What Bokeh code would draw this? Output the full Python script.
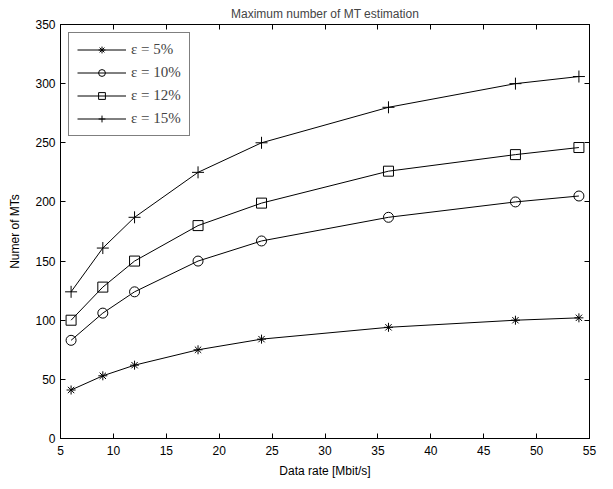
from bokeh.plotting import figure
from bokeh.models import LinearAxis, FixedTicker, Range1d, Legend, LegendItem
from bokeh.embed import file_html
from bokeh.resources import INLINE

rates = [6, 9, 12, 18, 24, 36, 48, 54]
eps5 = [41, 53, 62, 75, 84, 94, 100, 102]
eps10 = [83, 106, 124, 150, 167, 187, 200, 205]
eps12 = [100, 128, 150, 180, 199, 226, 240, 246]
eps15 = [124, 161, 187, 225, 250, 280, 300, 306]
labels = ["ε = 5%", "ε = 10%", "ε = 12%", "ε = 15%"]
markers = ["asterisk", "circle", "square", "cross"]
msizes = [9, 10, 10, 12]
x_ticks = [5, 10, 15, 20, 25, 30, 35, 40, 45, 50, 55]
y_ticks = [0, 50, 100, 150, 200, 250, 300, 350]

FONT = "Liberation Sans"
FS = "12px"

p = figure(width=597, height=481, frame_width=529, frame_height=414,
           x_range=Range1d(5, 55), y_range=Range1d(0, 350),
           output_backend="svg", toolbar_location=None,
           min_border_left=60, min_border_right=8, min_border_top=22,
           min_border_bottom=45, x_axis_label="Data rate [Mbit/s]",
           y_axis_label="Numer of MTs")
p.title.text = "Maximum number of MT estimation"
p.title.text_font = FONT
p.title.text_font_size = FS
p.title.text_font_style = "normal"
p.title.align = "center"
p.title.standoff = 8
p.xgrid.visible = False
p.ygrid.visible = False
p.outline_line_color = "black"
p.outline_line_width = 1
p.background_fill_color = "white"
p.border_fill_color = "white"

def style_axis(ax, ticks, show_labels):
    ax.ticker = FixedTicker(ticks=ticks)
    ax.major_tick_in = 5
    ax.major_tick_out = 0
    ax.minor_tick_in = 0
    ax.minor_tick_out = 0
    ax.axis_line_color = "black"
    ax.major_tick_line_color = "black"
    ax.major_label_text_font = FONT
    ax.major_label_text_font_size = FS
    ax.major_label_text_color = "black" if show_labels else None
    ax.axis_label_text_font = FONT
    ax.axis_label_text_font_size = FS
    ax.axis_label_text_font_style = "normal"
    ax.axis_label_text_color = "black"

style_axis(p.xaxis[0], x_ticks, True)
style_axis(p.yaxis[0], y_ticks, True)
p.xaxis[0].major_label_standoff = 7
p.xaxis[0].axis_label_standoff = 6
p.yaxis[0].major_label_standoff = 5
p.yaxis[0].axis_label_standoff = 10

top = LinearAxis()
style_axis(top, x_ticks, False)
top.major_label_standoff = 0
p.add_layout(top, "above")
right = LinearAxis()
style_axis(right, y_ticks, False)
right.major_label_standoff = 0
p.add_layout(right, "right")

items = []
for ys, lab, mk, ms in zip([eps5, eps10, eps12, eps15], labels, markers, msizes):
    r1 = p.line(rates, ys, line_color="black", line_width=1)
    r2 = p.scatter(rates, ys, marker=mk, size=ms, line_color="black",
                   fill_color=None, line_width=1)
    items.append(LegendItem(label=lab, renderers=[r1, r2]))

leg = Legend(items=items, location="top_left")
leg.margin = 8
leg.padding = 8
leg.spacing = 6
leg.glyph_width = 49
leg.glyph_height = 17
leg.label_height = 17
leg.label_standoff = 5
leg.label_text_font = "Liberation Serif"
leg.label_text_font_size = "15px"
leg.border_line_color = "black"
leg.border_line_width = 1
leg.background_fill_color = "white"
leg.background_fill_alpha = 1
p.add_layout(leg)

open("out.html", "w").write(file_html(p, INLINE))
